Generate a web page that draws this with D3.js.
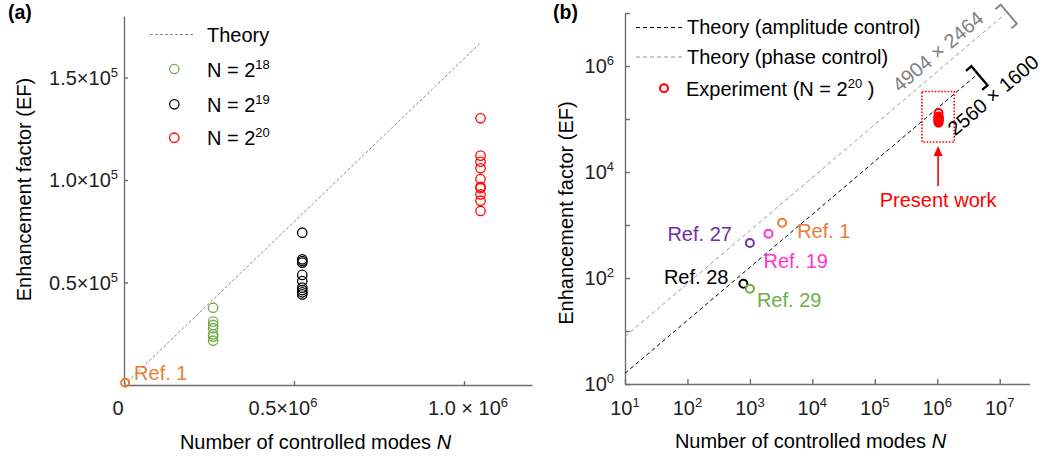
<!DOCTYPE html>
<html><head><meta charset="utf-8">
<script src="https://cdn.jsdelivr.net/npm/d3@7"></script>
<style>
body{margin:0;background:#fff;}
svg{display:block;font-family:"Liberation Sans",Arial,sans-serif;white-space:pre;}
</style></head><body>
<svg id="c" width="1042" height="457"></svg>
<script>
// ---------------- data ----------------
// panel (a)
const seriesNames = ["N = 2", "N = 2", "N = 2"];
const seriesExp = ["18", "19", "20"];
const seriesN = [262144, 524288, 1048576];
const seriesColors = ["#70ad47", "#000000", "#ff0000"];
const ef18 = [37700, 30900, 29300, 27700, 24700, 23600, 21600];
const ef19 = [74300, 61300, 60500, 59700, 53700, 50700, 47500, 46300, 45200, 44200];
const ef20 = [130100, 111900, 108900, 105700, 100500, 96700, 96000, 93000, 89900, 84900];
const theoryAN = [0, 1048576];
const theoryAEF = [0, 166886];
const aXTicks = [0, 0.5e6, 1.0e6];
const aXTickBase = ["0", "0.5×10", "1.0 × 10"];
const aXTickExp = ["", "6", "6"];
const aYTicks = [0.5e5, 1.0e5, 1.5e5];
const aYTickBase = ["0.5×10", "1.0×10", "1.5×10"];
const aYTickExp = ["5", "5", "5"];
// panel (b)
const refNames = ["Ref. 1", "Ref. 19", "Ref. 27", "Ref. 28", "Ref. 29"];
const refN = [3282, 1983, 1000, 787, 1000];
const refEF = [1100, 686, 457, 78, 63];
const refColors = ["#ed7d31", "#ff33cc", "#7030a0", "#000000", "#70ad47"];
const ampN = [10, 4096000];
const ampEF = [1.5915, 651899];
const phaseN = [10, 12083456];
const phaseEF = [7.854, 9490264];
const bXTicks = [1e1, 1e2, 1e3, 1e4, 1e5, 1e6, 1e7];
const bXTickExp = ["1", "2", "3", "4", "5", "6", "7"];
const bYTicks = [1e0, 1e1, 1e2, 1e3, 1e4, 1e5, 1e6, 1e7];
const bYLabelTicks = [1e0, 1e2, 1e4, 1e6];
const bYLabelExp = ["0", "2", "4", "6"];
const boxN = [5.69e5, 1.87e6];
const boxEF = [3.68e4, 3.3e5];
const phaseLabel = "4904 × 2464", phaseLabelAt = [1.455e6, 1.143e6];
const ampLabel = "2560 × 1600", ampLabelAt = [4.2e6, 6.68e5];

// ---------------- helpers ----------------
const svg = d3.select("#c");
const AX = "#6e6e6e";
function styleAxis(g){
  g.select(".domain").attr("stroke", AX).attr("stroke-width", 1.4);
  g.selectAll(".tick line").attr("stroke", AX).attr("stroke-width", 1.4);
  g.selectAll(".tick text").remove();
}
function supText(t, base, sup, after, shift, size){
  t.append("tspan").text(base);
  if (sup) t.append("tspan").attr("dy", -shift).attr("font-size", size).text(sup);
  if (after) t.append("tspan").attr("dy", shift).text(after);
  return t;
}

// ================= panel (a) =================
const xA = d3.scaleLinear().domain([0, 1.2e6]).range([124, 532]);
const yA = d3.scaleLinear().domain([0, 1.8e5]).range([385, 16]);

svg.append("g").attr("transform", "translate(0,385)")
  .call(d3.axisBottom(xA).tickValues(aXTicks.slice(1)).tickSize(-4).tickSizeOuter(0))
  .call(styleAxis);
svg.append("g").attr("transform", "translate(124,0)")
  .call(d3.axisLeft(yA).tickValues(aYTicks).tickSize(-4).tickSizeOuter(0))
  .call(styleAxis);

const aXdx = [-6, -11, 4];
aXTicks.forEach((v, i) => {
  const t = svg.append("text").attr("x", xA(v) + aXdx[i]).attr("y", 415)
    .attr("text-anchor", "middle").attr("font-size", 20).attr("fill", "#222");
  supText(t, aXTickBase[i], aXTickExp[i], "", 8, 13);
});
aYTicks.forEach((v, i) => {
  const t = svg.append("text").attr("x", 118).attr("y", yA(v) + 7)
    .attr("text-anchor", "end").attr("font-size", 20).attr("fill", "#222");
  supText(t, aYTickBase[i], aYTickExp[i], "", 8, 13);
});

// theory line
svg.append("line")
  .attr("x1", xA(theoryAN[0])).attr("y1", yA(theoryAEF[0]))
  .attr("x2", xA(theoryAN[1])).attr("y2", yA(theoryAEF[1]))
  .attr("stroke", "#8c8c8c").attr("stroke-width", 1).attr("stroke-dasharray", "3,2");

// data points
[ef18, ef19, ef20].forEach((arr, i) => {
  svg.append("g").selectAll("circle").data(arr).join("circle")
    .attr("cx", xA(seriesN[i])).attr("cy", d => yA(d)).attr("r", 4.7)
    .attr("fill", "none").attr("stroke", seriesColors[i]).attr("stroke-width", 1.3);
});
// Ref 1 in (a)
svg.append("circle").attr("cx", xA(refN[0])).attr("cy", yA(refEF[0])).attr("r", 4)
  .attr("fill", "none").attr("stroke", refColors[0]).attr("stroke-width", 2);
svg.append("text").attr("x", xA(refN[0]) + 9).attr("y", yA(refEF[0]) - 3)
  .attr("font-size", 20).attr("fill", refColors[0]).text(refNames[0]);

// legend (a)
svg.append("line").attr("x1", 150).attr("x2", 193).attr("y1", 34.5).attr("y2", 34.5)
  .attr("stroke", "#8c8c8c").attr("stroke-width", 1).attr("stroke-dasharray", "3,2");
svg.append("text").attr("x", 207).attr("y", 41.5).attr("font-size", 20).text("Theory");
const legY = [69, 104.3, 137.7];
seriesN.forEach((n, i) => {
  svg.append("circle").attr("cx", 174.3).attr("cy", legY[i]).attr("r", 4.7)
    .attr("fill", "none").attr("stroke", seriesColors[i]).attr("stroke-width", 1.3);
  const t = svg.append("text").attr("x", 207).attr("y", legY[i] + 7.5).attr("font-size", 20);
  supText(t, seriesNames[i], seriesExp[i], "", 8, 13);
});

// axis labels (a)
svg.append("text").attr("transform", "translate(31,189.5) rotate(-90)")
  .attr("text-anchor", "middle").attr("font-size", 20).text("Enhancement factor (EF)");
const xla = svg.append("text").attr("x", 315.5).attr("y", 449).attr("text-anchor", "middle").attr("font-size", 20);
xla.append("tspan").text("Number of controlled modes ");
xla.append("tspan").attr("font-style", "italic").text("N");
svg.append("text").attr("x", 8).attr("y", 19).attr("font-size", 19.5).attr("font-weight", "bold").text("(a)");

// ================= panel (b) =================
const xB = d3.scaleLog().domain([10, 3e7]).range([625, 1029.5]);
const yB = d3.scaleLog().domain([1, 1e7]).range([384, 13]);

svg.append("g").attr("transform", "translate(0,384)")
  .call(d3.axisBottom(xB).tickValues(bXTicks).tickSize(-5).tickSizeOuter(0))
  .call(styleAxis);
svg.append("g").attr("transform", "translate(625,0)")
  .call(d3.axisLeft(yB).tickValues(bYTicks).tickSize(-5).tickSizeOuter(0))
  .call(styleAxis);

bXTicks.forEach((v, i) => {
  const t = svg.append("text").attr("x", xB(v)).attr("y", 414.5)
    .attr("text-anchor", "middle").attr("font-size", 20).attr("fill", "#222");
  supText(t, "10", bXTickExp[i], "", 8, 13);
});
bYLabelTicks.forEach((v, i) => {
  const t = svg.append("text").attr("x", 614).attr("y", yB(v) + 7)
    .attr("text-anchor", "end").attr("font-size", 20).attr("fill", "#222");
  supText(t, "10", bYLabelExp[i], "", 8, 13);
});

// theory lines
svg.append("line").attr("x1", xB(phaseN[0])).attr("y1", yB(phaseEF[0]))
  .attr("x2", xB(phaseN[1])).attr("y2", yB(phaseEF[1]))
  .attr("stroke", "#999").attr("stroke-width", 1).attr("stroke-dasharray", "4,3");
svg.append("line").attr("x1", xB(ampN[0])).attr("y1", yB(ampEF[0]))
  .attr("x2", xB(ampN[1])).attr("y2", yB(ampEF[1]))
  .attr("stroke", "#000").attr("stroke-width", 1).attr("stroke-dasharray", "4,3");

// brackets at line ends
function bracket(N, EF, N0, EF0, color, sw){
  const px = xB(N), py = yB(EF);
  const dx = px - xB(N0), dy = py - yB(EF0), L = Math.hypot(dx, dy);
  const u = [dx / L, dy / L], v = [-u[1], u[0]];
  const c = [px + 3 * u[0] + 2.5 * v[0], py + 3 * u[1] + 2.5 * v[1]];
  const h = 12.5, arm = 7;
  const p1 = [c[0] - h * v[0], c[1] - h * v[1]], p2 = [c[0] + h * v[0], c[1] + h * v[1]];
  const pts = [[p1[0] - arm * u[0], p1[1] - arm * u[1]], p1, p2, [p2[0] - arm * u[0], p2[1] - arm * u[1]]];
  svg.append("path").attr("d", d3.line()(pts)).attr("fill", "none")
    .attr("stroke", color).attr("stroke-width", sw);
}
bracket(phaseN[1], phaseEF[1], phaseN[0], phaseEF[0], "#888", 2);
bracket(ampN[1], ampEF[1], ampN[0], ampEF[0], "#000", 2.4);

// rotated annotation labels
const angP = Math.atan2(yB(phaseEF[1]) - yB(phaseEF[0]), xB(phaseN[1]) - xB(phaseN[0])) * 180 / Math.PI;
const angA = Math.atan2(yB(ampEF[1]) - yB(ampEF[0]), xB(ampN[1]) - xB(ampN[0])) * 180 / Math.PI;
svg.append("text")
  .attr("transform", `translate(${xB(phaseLabelAt[0])},${yB(phaseLabelAt[1])}) rotate(${angP})`)
  .attr("y", -8).attr("text-anchor", "middle").attr("font-size", 20).attr("fill", "#808080").text(phaseLabel);
svg.append("text")
  .attr("transform", `translate(${xB(ampLabelAt[0])},${yB(ampLabelAt[1])}) rotate(${angA})`)
  .attr("y", 33).attr("text-anchor", "middle").attr("font-size", 20).attr("fill", "#000").text(ampLabel);

// reference points
const refDx = [15, -5, -18, -15, 7], refDy = [15, 34, -2, 0, 18];
const refAnchor = ["start", "start", "end", "end", "start"];
refN.forEach((n, i) => {
  svg.append("circle").attr("cx", xB(n)).attr("cy", yB(refEF[i])).attr("r", 4)
    .attr("fill", "none").attr("stroke", refColors[i]).attr("stroke-width", 2);
  svg.append("text").attr("x", xB(n) + refDx[i]).attr("y", yB(refEF[i]) + refDy[i])
    .attr("text-anchor", refAnchor[i]).attr("font-size", 20).attr("fill", refColors[i]).text(refNames[i]);
});

// experiment points
svg.append("g").selectAll("circle").data(ef20).join("circle")
  .attr("cx", xB(seriesN[2])).attr("cy", d => yB(d)).attr("r", 4)
  .attr("fill", "none").attr("stroke", "#ff0000").attr("stroke-width", 2);

// present work box + arrow
const bx0 = xB(boxN[0]), bx1 = xB(boxN[1]), by0 = yB(boxEF[1]), by1 = yB(boxEF[0]);
svg.append("rect").attr("x", bx0).attr("y", by0).attr("width", bx1 - bx0).attr("height", by1 - by0)
  .attr("fill", "none").attr("stroke", "#ff0000").attr("stroke-width", 1.6).attr("stroke-dasharray", "1.6,1.6");
const ax = (bx0 + bx1) / 2;
svg.append("line").attr("x1", ax).attr("x2", ax).attr("y1", by1 + 12).attr("y2", by1 + 44)
  .attr("stroke", "#ff0000").attr("stroke-width", 1.6);
svg.append("path").attr("d", `M${ax},${by1 + 4}L${ax - 4.5},${by1 + 14}L${ax + 4.5},${by1 + 14}Z`).attr("fill", "#ff0000");
svg.append("text").attr("x", ax).attr("y", by1 + 65).attr("text-anchor", "middle")
  .attr("font-size", 20).attr("fill", "#ff0000").text("Present work");

// legend (b)
svg.append("line").attr("x1", 636).attr("x2", 682).attr("y1", 27.5).attr("y2", 27.5)
  .attr("stroke", "#000").attr("stroke-width", 1).attr("stroke-dasharray", "4,3");
svg.append("text").attr("x", 687).attr("y", 34).attr("font-size", 20).text("Theory (amplitude control)");
svg.append("line").attr("x1", 636).attr("x2", 682).attr("y1", 57).attr("y2", 57)
  .attr("stroke", "#999").attr("stroke-width", 1).attr("stroke-dasharray", "4,3");
svg.append("text").attr("x", 687).attr("y", 63.5).attr("font-size", 20).text("Theory (phase control)");
svg.append("circle").attr("cx", 664).attr("cy", 88.3).attr("r", 4)
  .attr("fill", "none").attr("stroke", "#ff0000").attr("stroke-width", 2);
supText(svg.append("text").attr("x", 686).attr("y", 95.5).attr("font-size", 20),
  "Experiment (N = 2", "20", " )", 8, 13);

// axis labels (b)
svg.append("text").attr("transform", "translate(573,213) rotate(-90)")
  .attr("text-anchor", "middle").attr("font-size", 20).text("Enhancement factor (EF)");
const xlb = svg.append("text").attr("x", 810.5).attr("y", 448).attr("text-anchor", "middle").attr("font-size", 20);
xlb.append("tspan").text("Number of controlled modes ");
xlb.append("tspan").attr("font-style", "italic").text("N");
svg.append("text").attr("x", 553).attr("y", 19).attr("font-size", 19.5).attr("font-weight", "bold").text("(b)");
</script>
</body></html>
